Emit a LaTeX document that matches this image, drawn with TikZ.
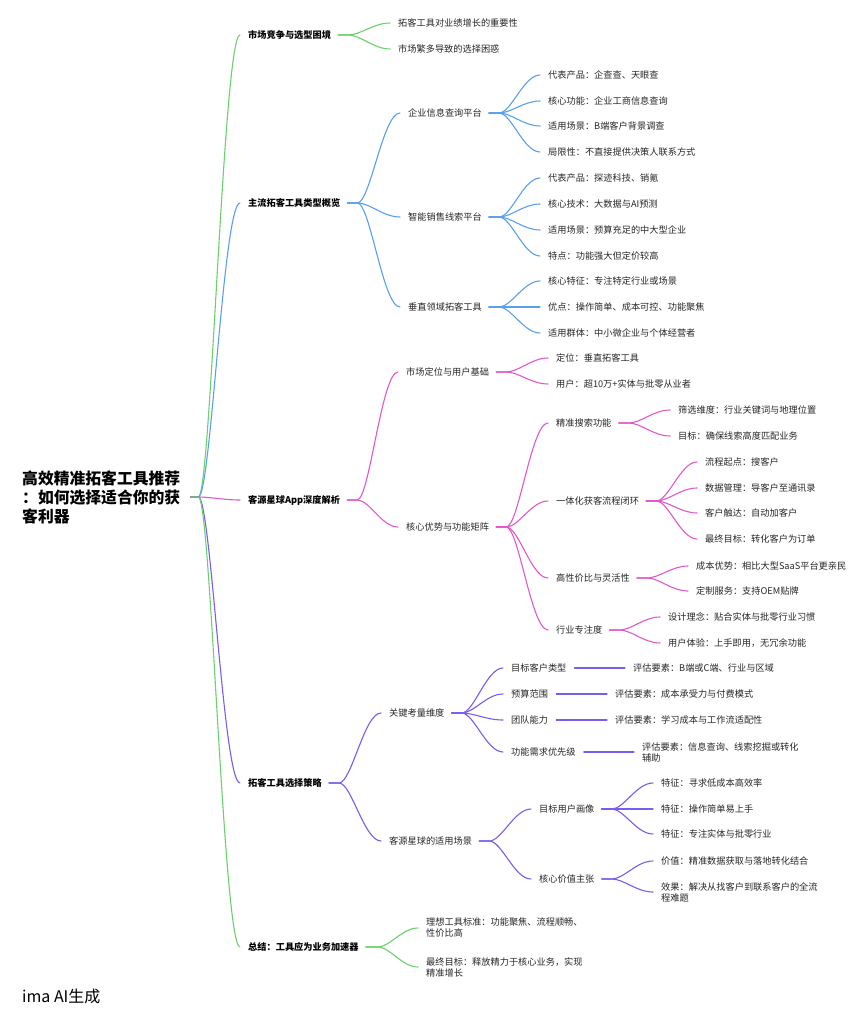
\documentclass[tikz,border=0pt]{standalone}
\usepackage{fontspec}
\setmainfont{Noto Sans CJK SC}
\usetikzlibrary{calc}
\definecolor{cgreen}{RGB}{108,208,108}
\definecolor{cblue}{RGB}{88,160,238}
\definecolor{cmag}{RGB}{226,88,200}
\definecolor{cpurp}{RGB}{122,92,238}
\newcommand\mlink[5]{%
  \draw[#1] let \p1=([xshift=#2]#4.east), \p2=([xshift=-8pt]#5.west), \p3=(\x1+#3,\y1) in
    (\p1) -- (\p3) .. controls (\x3+0.3*\x2-0.3*\x3,\y3) and (\x3+0.6*\x2-0.6*\x3,\y2) .. (\p2);}
\newcommand\slink[3]{%
  \draw[#1] ([xshift=8pt]#2.east) -- ([xshift=-8pt]#3.west);}
\begin{document}
\begin{tikzpicture}[x=1pt,y=-1pt,
  tx/.style={anchor=west, inner sep=0pt, text=black!85, font=\fontsize{9.2}{11}\selectfont, align=left},
  lone/.style={tx, text=black, font=\fontsize{9.2}{11}\selectfont\bfseries},
  ln/.style={line width=1.1pt, line cap=round},
  brG/.style={ln, draw=cgreen},
  brB/.style={ln, draw=cblue},
  brM/.style={ln, draw=cmag},
  brP/.style={ln, draw=cpurp}]
\useasboundingbox (0,0) rectangle (867,1024);

% root
\node[tx, text=black, font=\fontsize{15.8}{19}\selectfont\bfseries] (root) at (22,497) {高效精准拓客工具推荐\\：如何选择适合你的获\\客利器};
\node[tx, text=black, font=\fontsize{16}{19}\selectfont] (ima) at (22,996) {ima AI生成};

% level 1
\node[lone] (A1) at (248,35) {市场竞争与选型困境};
\node[lone] (A2) at (248,203) {主流拓客工具类型概览};
\node[lone] (A3) at (248,500) {客源星球App深度解析};
\node[lone] (A4) at (248,783) {拓客工具选择策略};
\node[lone] (A5) at (248,947) {总结：工具应为业务加速器};
\mlink{brG}{10pt}{8pt}{root}{A1}
\mlink{brB}{10pt}{8pt}{root}{A2}
\mlink{brM}{10pt}{8pt}{root}{A3}
\mlink{brP}{10pt}{8pt}{root}{A4}
\mlink{brG}{10pt}{8pt}{root}{A5}

% branch 1
\node[tx] (a11) at (398,23) {拓客工具对业绩增长的重要性};
\node[tx] (a12) at (398,49) {市场繁多导致的选择困惑};
\mlink{brG}{7pt}{10pt}{A1}{a11}
\mlink{brG}{7pt}{10pt}{A1}{a12}

% branch 2
\node[tx] (a21) at (408,113) {企业信息查询平台};
\node[tx] (a22) at (408,217) {智能销售线索平台};
\node[tx] (a23) at (408,307) {垂直领域拓客工具};
\mlink{brB}{7pt}{10pt}{A2}{a21}
\mlink{brB}{7pt}{10pt}{A2}{a22}
\mlink{brB}{7pt}{10pt}{A2}{a23}

\node[tx] (a211) at (548,75) {代表产品：企查查、天眼查};
\node[tx] (a212) at (548,101) {核心功能：企业工商信息查询};
\node[tx] (a213) at (548,126) {适用场景：B端客户背景调查};
\node[tx] (a214) at (548,152) {局限性：不直接提供决策人联系方式};
\foreach \c in {a211,a212,a213,a214} {\mlink{brB}{7pt}{10pt}{a21}{\c}}

\node[tx] (a221) at (548,178) {代表产品：探迹科技、销氪};
\node[tx] (a222) at (548,204) {核心技术：大数据与AI预测};
\node[tx] (a223) at (548,230) {适用场景：预算充足的中大型企业};
\node[tx] (a224) at (548,256) {特点：功能强大但定价较高};
\foreach \c in {a221,a222,a223,a224} {\mlink{brB}{7pt}{10pt}{a22}{\c}}

\node[tx] (a231) at (548,281) {核心特征：专注特定行业或场景};
\node[tx] (a232) at (548,307) {优点：操作简单、成本可控、功能聚焦};
\node[tx] (a233) at (548,333) {适用群体：中小微企业与个体经营者};
\foreach \c in {a231,a232,a233} {\mlink{brB}{7pt}{10pt}{a23}{\c}}

% branch 3
\node[tx] (a31) at (406,372) {市场定位与用户基础};
\node[tx] (a32) at (406,527) {核心优势与功能矩阵};
\mlink{brM}{7pt}{10pt}{A3}{a31}
\mlink{brM}{7pt}{10pt}{A3}{a32}

\node[tx] (a311) at (556,358) {定位：垂直拓客工具};
\node[tx] (a312) at (556,384) {用户：超10万+实体与批零从业者};
\foreach \c in {a311,a312} {\mlink{brM}{7pt}{10pt}{a31}{\c}}

\node[tx] (a321) at (556,423) {精准搜索功能};
\node[tx] (a322) at (556,501) {一体化获客流程闭环};
\node[tx] (a323) at (556,578) {高性价比与灵活性};
\node[tx] (a324) at (556,630) {行业专注度};
\foreach \c in {a321,a322,a323,a324} {\mlink{brM}{7pt}{10pt}{a32}{\c}}

\node[tx] (a3211) at (678,410) {筛选维度：行业关键词与地理位置};
\node[tx] (a3212) at (678,436) {目标：确保线索高度匹配业务};
\foreach \c in {a3211,a3212} {\mlink{brM}{7pt}{10pt}{a321}{\c}}

\node[tx] (a3221) at (705,462) {流程起点：搜客户};
\node[tx] (a3222) at (705,488) {数据管理：导客户至通讯录};
\node[tx] (a3223) at (705,513) {客户触达：自动加客户};
\node[tx] (a3224) at (705,539) {最终目标：转化客户为订单};
\foreach \c in {a3221,a3222,a3223,a3224} {\mlink{brM}{7pt}{10pt}{a322}{\c}}

\node[tx] (a3231) at (696,566) {成本优势：相比大型SaaS平台更亲民};
\node[tx] (a3232) at (696,591) {定制服务：支持OEM贴牌};
\foreach \c in {a3231,a3232} {\mlink{brM}{7pt}{10pt}{a323}{\c}}

\node[tx] (a3241) at (668,617) {设计理念：贴合实体与批零行业习惯};
\node[tx] (a3242) at (668,643) {用户体验：上手即用，无冗余功能};
\foreach \c in {a3241,a3242} {\mlink{brM}{7pt}{10pt}{a324}{\c}}

% branch 4
\node[tx] (a41) at (389,713) {关键考量维度};
\node[tx] (a42) at (389,841) {客源星球的适用场景};
\mlink{brP}{7pt}{10pt}{A4}{a41}
\mlink{brP}{7pt}{10pt}{A4}{a42}

\node[tx] (a411) at (511,668) {目标客户类型};
\node[tx] (a412) at (511,694) {预算范围};
\node[tx] (a413) at (511,720) {团队能力};
\node[tx] (a414) at (511,752) {功能需求优先级};
\foreach \c in {a411,a412,a413,a414} {\mlink{brP}{7pt}{10pt}{a41}{\c}}

\node[tx] (e1) at (633,668) {评估要素：B端或C端、行业与区域};
\node[tx] (e2) at (615,694) {评估要素：成本承受力与付费模式};
\node[tx] (e3) at (615,720) {评估要素：学习成本与工作流适配性};
\node[tx] (e4) at (642,752) {评估要素：信息查询、线索挖掘或转化\\辅助};
\slink{brP}{a411}{e1}
\slink{brP}{a412}{e2}
\slink{brP}{a413}{e3}
\slink{brP}{a414}{e4}

\node[tx] (a421) at (539,809) {目标用户画像};
\node[tx] (a422) at (539,879) {核心价值主张};
\foreach \c in {a421,a422} {\mlink{brP}{7pt}{10pt}{a42}{\c}}

\node[tx] (a4211) at (661,783) {特征：寻求低成本高效率};
\node[tx] (a4212) at (661,809) {特征：操作简单易上手};
\node[tx] (a4213) at (661,834) {特征：专注实体与批零行业};
\foreach \c in {a4211,a4212,a4213} {\mlink{brP}{7pt}{10pt}{a421}{\c}}

\node[tx] (a4221) at (661,861) {价值：精准数据获取与落地转化结合};
\node[tx] (a4222) at (661,892) {效果：解决从找客户到联系客户的全流\\程难题};
\foreach \c in {a4221,a4222} {\mlink{brP}{7pt}{10pt}{a422}{\c}}

% branch 5
\node[tx] (a51) at (426,928) {理想工具标准：功能聚焦、流程顺畅、\\性价比高};
\node[tx] (a52) at (426,967) {最终目标：释放精力于核心业务，实现\\精准增长};
\mlink{brG}{7pt}{12pt}{A5}{a51}
\mlink{brG}{7pt}{12pt}{A5}{a52}
\end{tikzpicture}
\end{document}
